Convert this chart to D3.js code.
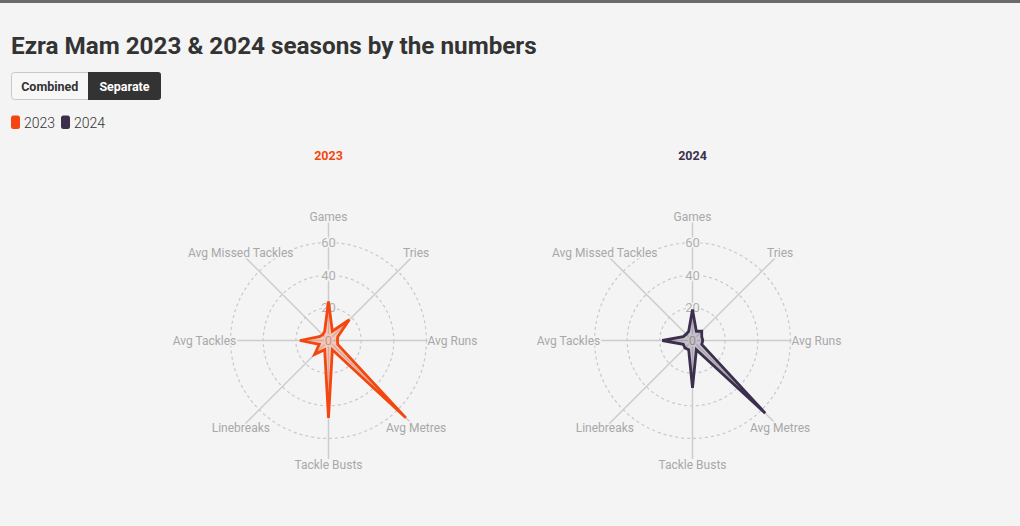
<!DOCTYPE html>
<html><head><meta charset="utf-8">
<script src="https://cdn.jsdelivr.net/npm/d3@7"></script>
<style>
html,body{margin:0;padding:0;background:#f4f4f4;}
svg{display:block;font-family:Roboto, "Noto Sans", sans-serif;}
</style></head><body>
<svg id="chart" width="1020" height="526"></svg>
<script>
// ---- data ----
const axisLabels = ["Games","Tries","Avg Runs","Avg Metres","Tackle Busts","Linebreaks","Avg Tackles","Avg Missed Tackles"];
const seasons = ["2023","2024"];
const values2023 = [24, 18, 5.5, 67, 47.5, 12, 17.5, 5];
const values2024 = [19, 8, 6.3, 63, 29, 6.5, 18.5, 5.5];
const gridTicks = [20, 40, 60];
const tickLabels = ["0","20","40","60"];
const buttonLabels = ["Combined","Separate"];
const titleText = "Ezra Mam 2023 & 2024 seasons by the numbers";

// ---- styles ----
const seasonColors = ["#f4470f","#3b2f4d"];
const seasonFills = ["rgba(244,71,15,0.25)","rgba(59,47,77,0.25)"];
const bg = "#f4f4f4";
const centers = [[328.5,340.5],[692.5,340.5]];
const R = 118.5;
const notchRadius = 10;

const svg = d3.select("#chart");
svg.append("rect").attr("width",1020).attr("height",526).attr("fill",bg);
svg.append("rect").attr("width",1020).attr("height",3).attr("fill","#6b6b6b");

// title
const title = svg.append("text").attr("x",11).attr("y",53.5)
  .attr("font-weight",700).attr("font-size",25).attr("fill","#333")
  .text(titleText);
const tl = title.node().getComputedTextLength();
if (tl > 0) title.attr("font-size", 25 * 526 / tl);

// buttons
const bx = d3.scaleOrdinal().domain(buttonLabels).range([11.5, 88]);
const bw = d3.scaleOrdinal().domain(buttonLabels).range([76.5, 73]);
const btn = svg.append("g");
btn.append("rect").attr("x",11.5).attr("y",72.5).attr("width",149).attr("height",27).attr("rx",3)
  .attr("fill","#f7f7f7").attr("stroke","#c8c8c8");
btn.append("path")
  .attr("d","M88,72 H158 a3,3 0 0 1 3,3 V97 a3,3 0 0 1 -3,3 H88 Z")
  .attr("fill","#333");
btn.selectAll("text").data(buttonLabels).join("text")
  .attr("x", d => bx(d) + bw(d)/2).attr("y", 86.5)
  .attr("text-anchor","middle").attr("dominant-baseline","central")
  .attr("font-size",12.5).attr("font-weight",700)
  .attr("fill",(d,i)=> i===1 ? "#fff" : "#333")
  .text(d=>d);

// legend
const lx = d3.scaleOrdinal().domain(seasons).range([11, 61]);
const leg = svg.append("g").selectAll("g").data(seasons).join("g")
  .attr("transform", d => `translate(${lx(d)},0)`);
leg.append("rect").attr("x",0).attr("y",115.5).attr("width",9).attr("height",13.5).attr("rx",2.5)
  .attr("fill",(d,i)=>seasonColors[i]);
leg.append("text").attr("x",13).attr("y",123).attr("dominant-baseline","central")
  .attr("font-size",14).attr("font-weight",300).attr("fill","#333").text(d=>d);

// radar
const rScale = d3.scaleLinear().domain([0, 72.6]).range([0, R]);
const angle = d3.scaleLinear().domain([0, axisLabels.length]).range([0, 2*Math.PI]);
const seriesValues = [values2023, values2024];

seasons.forEach((season, si) => {
  const [cx, cy] = centers[si];
  const g = svg.append("g").attr("transform", `translate(${cx},${cy})`);

  // season title
  svg.append("text").attr("x", cx).attr("y", 155.5)
    .attr("text-anchor","middle").attr("dominant-baseline","central")
    .attr("font-size",12.5).attr("font-weight",700).attr("fill",seasonColors[si])
    .text(season);

  // grid circles
  g.selectAll("circle.grid").data(gridTicks).join("circle")
    .attr("class","grid").attr("r", d => rScale(d))
    .attr("fill","none").attr("stroke","#c9c9c9").attr("stroke-width",1.2)
    .attr("stroke-dasharray","3,3");

  // axis lines
  g.selectAll("line.axis").data(axisLabels).join("line")
    .attr("class","axis")
    .attr("x1",0).attr("y1",0)
    .attr("x2",(d,i)=> d3.pointRadial(angle(i), R)[0])
    .attr("y2",(d,i)=> d3.pointRadial(angle(i), R)[1])
    .attr("stroke","#cccccc").attr("stroke-width",1.5);

  // tick labels
  g.selectAll("text.tick").data(tickLabels).join("text")
    .attr("class","tick")
    .attr("x",0).attr("y", d => -rScale(+d))
    .attr("text-anchor","middle").attr("dominant-baseline","central")
    .attr("font-size",13).attr("fill","#b0b0b0")
    .attr("stroke",bg).attr("stroke-width",3).attr("paint-order","stroke")
    .text(d=>d);

  // star polygon: value spikes with notches between axes
  const pts = [];
  seriesValues[si].forEach((v, i) => {
    pts.push({a: angle(i), r: rScale(v)});
    pts.push({a: angle(i + 0.5), r: notchRadius});
  });
  const line = d3.lineRadial()
    .angle(d => d.a)
    .radius(d => d.r)
    .curve(d3.curveLinearClosed);
  g.append("path").attr("d", line(pts))
    .attr("fill", seasonFills[si])
    .attr("stroke", seasonColors[si]).attr("stroke-width",2.8)
    .attr("stroke-linejoin","miter").attr("stroke-miterlimit",4);

  // axis labels
  g.selectAll("text.lab").data(axisLabels).join("text")
    .attr("class","lab")
    .attr("x",(d,i)=> d3.pointRadial(angle(i), R+5.5)[0])
    .attr("y",(d,i)=> d3.pointRadial(angle(i), R+5.5)[1])
    .attr("text-anchor","middle").attr("dominant-baseline","central")
    .attr("font-size",12).attr("fill","#a8a8a8")
    .attr("stroke",bg).attr("stroke-width",3).attr("paint-order","stroke")
    .text(d=>d);
});
</script>
</body></html>
